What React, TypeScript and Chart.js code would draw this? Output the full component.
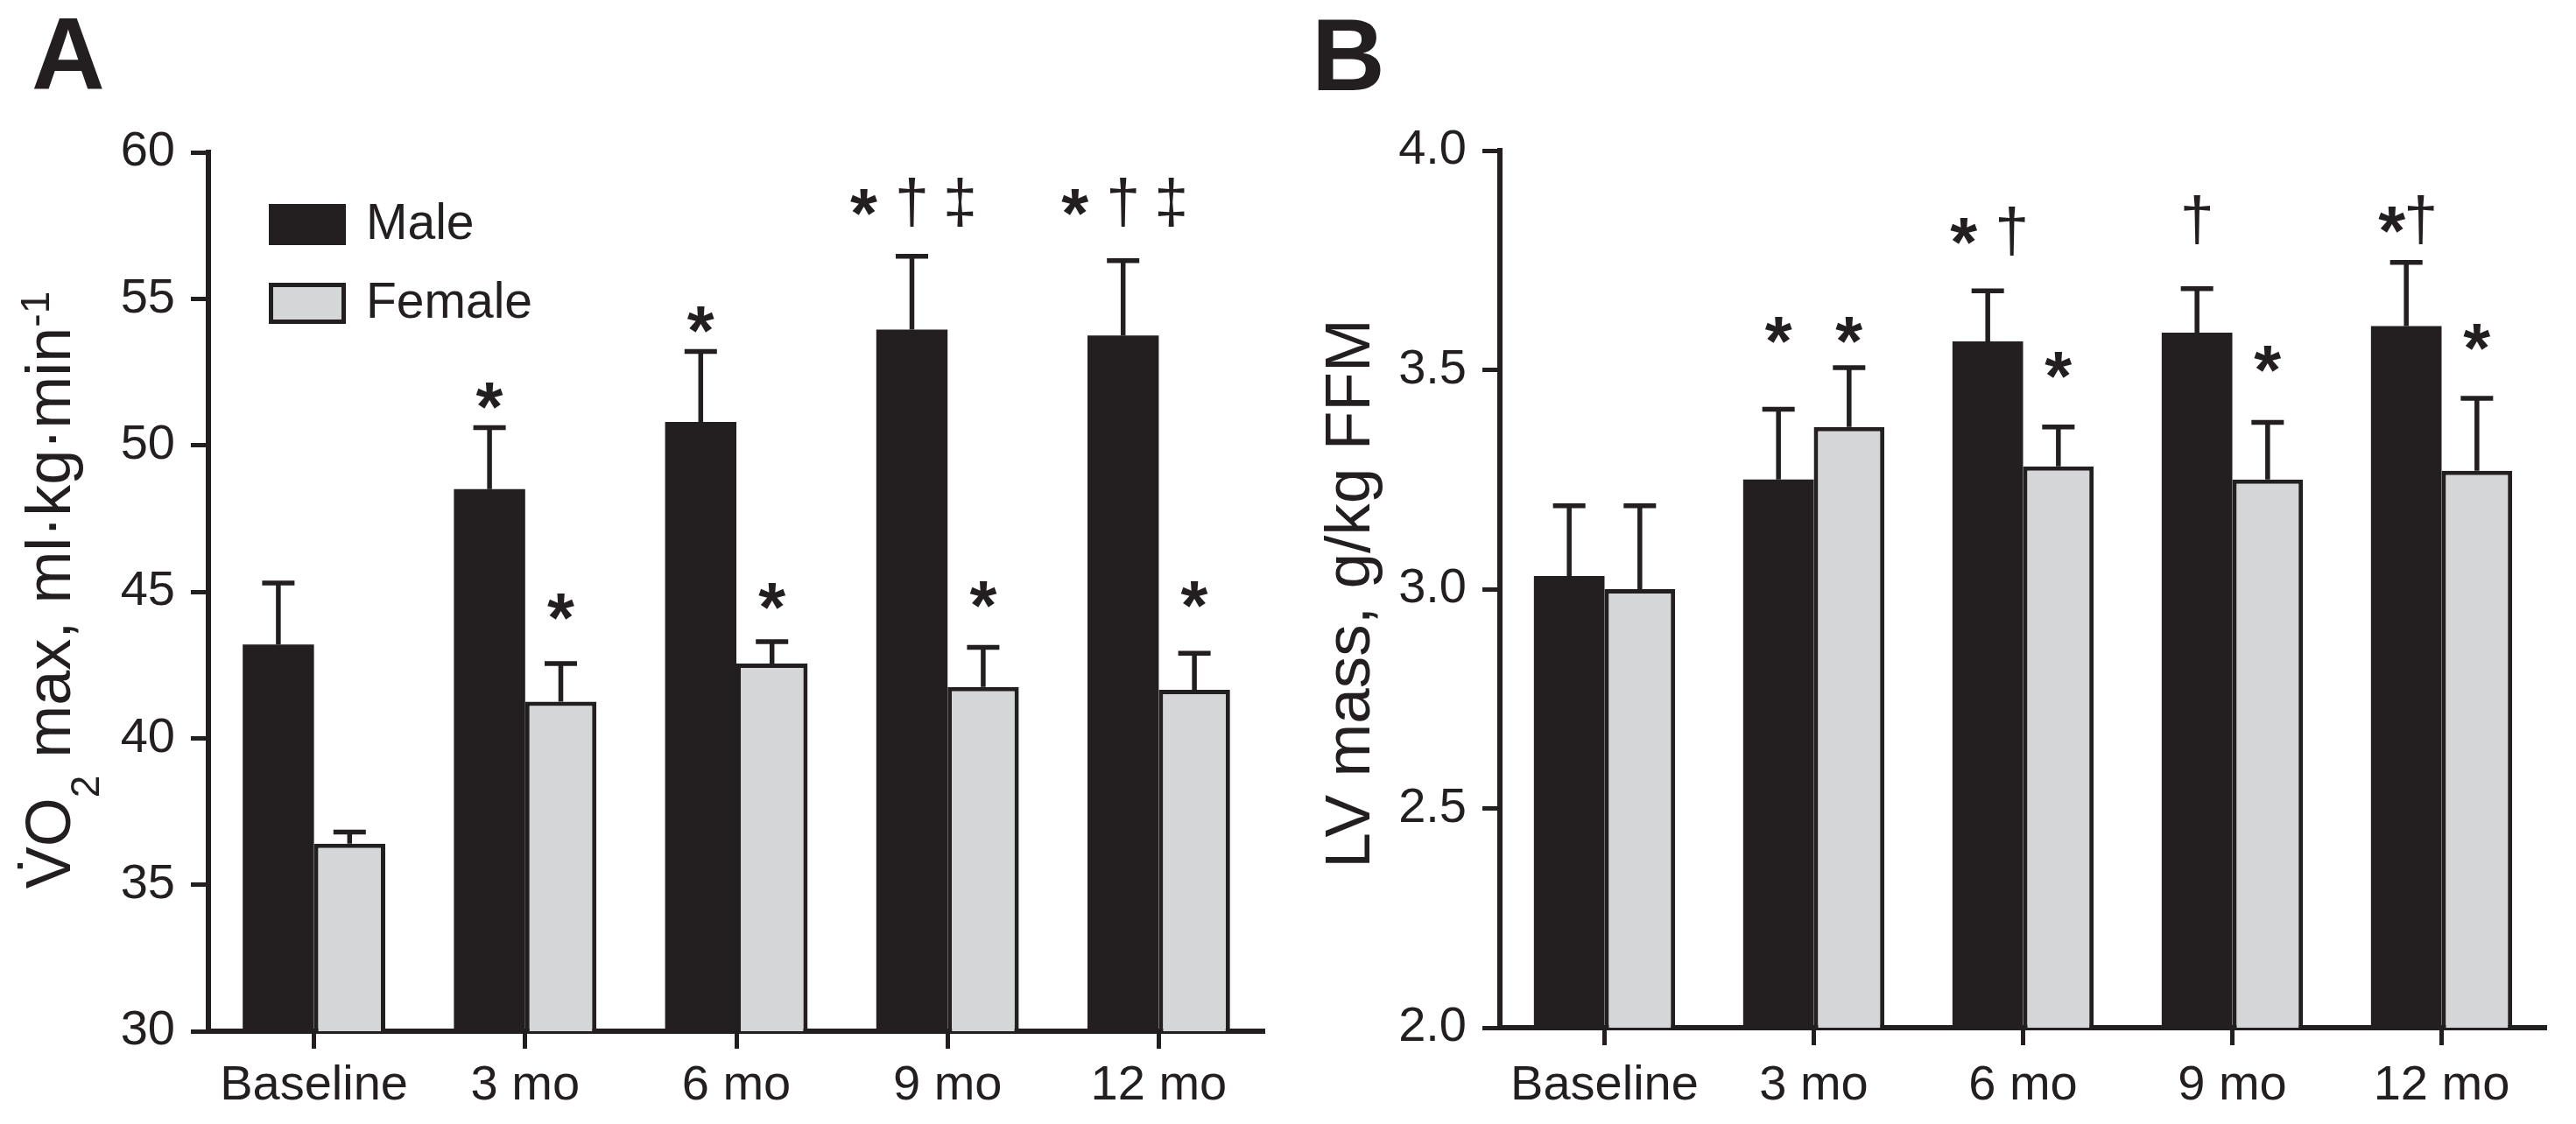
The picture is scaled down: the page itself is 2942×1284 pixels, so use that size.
import React, { useEffect, useRef } from 'react';
import { Chart, registerables } from 'chart.js';

Chart.register(...registerables);

// ---------- data ----------
const categories = ['Baseline', '3 mo', '6 mo', '9 mo', '12 mo'];
const seriesNames = ['Male', 'Female'];

const vo2Male = [43.2, 48.5, 50.8, 53.95, 53.75];
const vo2MaleSE = [2.1, 2.1, 2.4, 2.5, 2.55];
const vo2Female = [36.4, 41.25, 42.55, 41.75, 41.65];
const vo2FemaleSE = [0.4, 1.3, 0.75, 1.35, 1.25];
const vo2TickLabels = ['30', '35', '40', '45', '50', '55', '60'];

const lvMale = [3.03, 3.25, 3.565, 3.585, 3.6];
const lvMaleSE = [0.16, 0.16, 0.115, 0.1, 0.145];
const lvFemale = [3.0, 3.37, 3.28, 3.25, 3.27];
const lvFemaleSE = [0.19, 0.135, 0.09, 0.13, 0.165];
const lvTickLabels = ['2.0', '2.5', '3.0', '3.5', '4.0'];

// significance marks: [category index, series index, marks, level (axis units)]
const vo2Marks: [number, number, string, number][] = [
  [1, 0, '*', 51.7],
  [1, 1, '*', 44.5],
  [2, 0, '*', 54.3],
  [2, 1, '*', 44.85],
  [3, 0, '* \u2020 \u2021', 58.3],
  [3, 1, '*', 44.9],
  [4, 0, '* \u2020 \u2021', 58.3],
  [4, 1, '*', 44.9],
];
const lvMarks: [number, number, string, number][] = [
  [1, 0, '*', 3.59],
  [1, 1, '*', 3.59],
  [2, 0, '* \u2020', 3.816],
  [2, 1, '*', 3.511],
  [3, 0, '\u2020', 3.842],
  [3, 1, '*', 3.525],
  [4, 0, '*\u2020', 3.842],
  [4, 1, '*', 3.575],
];

// ---------- styling ----------
const INK = '#231f20';
const MALE_FILL = '#231f20';
const FEMALE_FILL = '#d5d6d8';
const FONT = '"Liberation Sans", Arial, Helvetica, sans-serif';
const W = 1471;
const H = 1284;

function inkText(ctx: CanvasRenderingContext2D, text: string, cx: number, cy: number) {
  const m = ctx.measureText(text);
  const x = cx - (m.actualBoundingBoxRight - m.actualBoundingBoxLeft) / 2;
  const y = cy - (m.actualBoundingBoxDescent - m.actualBoundingBoxAscent) / 2;
  ctx.textAlign = 'left';
  ctx.textBaseline = 'alphabetic';
  ctx.fillText(text, x, y);
}

function drawMarks(ctx: CanvasRenderingContext2D, text: string, cx: number, cy: number) {
  ctx.font = `bold 100px ${FONT}`;
  let m = ctx.measureText('*');
  const starSize = (100 * 31) / (m.actualBoundingBoxRight + m.actualBoundingBoxLeft);
  ctx.font = `100px ${FONT}`;
  m = ctx.measureText('\u2020');
  const dagSize = (100 * 56) / (m.actualBoundingBoxAscent + m.actualBoundingBoxDescent);
  const items: { ch: string; font: string; w: number; c: number }[] = [];
  let cursor = 0;
  for (const ch of text) {
    if (ch === ' ') {
      cursor += 22;
      continue;
    }
    const font = ch === '*' ? `bold ${starSize}px ${FONT}` : `${dagSize}px ${FONT}`;
    ctx.font = font;
    const mm = ctx.measureText(ch);
    const w = mm.actualBoundingBoxRight + mm.actualBoundingBoxLeft;
    items.push({ ch, font, w, c: cursor + w / 2 });
    cursor += w + 2;
  }
  const total = cursor - 2;
  for (const it of items) {
    ctx.font = it.font;
    inkText(ctx, it.ch, cx - total / 2 + it.c, cy);
  }
}

type Panel = {
  male: number[];
  maleSE: number[];
  female: number[];
  femaleSE: number[];
  tickLabels: string[];
  marks: [number, number, string, number][];
  letter: string;
  letterX: number;
  letterY: number;
  yAxisWidth: number;
  rightPad: number;
  top: number;
  bottom: number;
  xLabelPad: number;
  drawTitle: (ctx: CanvasRenderingContext2D) => void;
  legend: boolean;
};

function drawVO2Title(ctx: CanvasRenderingContext2D) {
  const size = 72;
  const small = 46;
  const parts: { t: string; s: number; dy: number }[] = [
    { t: 'V', s: size, dy: 0 },
    { t: 'O', s: size, dy: 0 },
    { t: '2', s: small, dy: 33 },
    { t: ' max, ml\u00b7kg\u00b7min', s: size, dy: 0 },
    { t: '-1', s: small, dy: -24 },
  ];
  ctx.save();
  ctx.translate(80, 674);
  ctx.rotate(-Math.PI / 2);
  ctx.fillStyle = INK;
  ctx.textBaseline = 'alphabetic';
  ctx.textAlign = 'left';
  let total = 0;
  const widths = parts.map((p) => {
    ctx.font = `${p.s}px ${FONT}`;
    const w = ctx.measureText(p.t).width;
    total += w;
    return w;
  });
  let x = -total / 2;
  parts.forEach((p, i) => {
    ctx.font = `${p.s}px ${FONT}`;
    ctx.fillText(p.t, x, p.dy);
    if (i === 0) {
      ctx.font = `${size}px ${FONT}`;
      inkText(ctx, '\u02d9', x + widths[0] / 2 + 2, -58);
    }
    x += widths[i];
  });
  ctx.restore();
}

function drawLVTitle(ctx: CanvasRenderingContext2D) {
  ctx.save();
  ctx.translate(93, 678);
  ctx.rotate(-Math.PI / 2);
  ctx.fillStyle = INK;
  ctx.font = `73px ${FONT}`;
  ctx.textAlign = 'center';
  ctx.textBaseline = 'alphabetic';
  ctx.fillText('LV mass, g/kg FFM', 0, 0);
  ctx.restore();
}

const panels: Panel[] = [
  {
    male: vo2Male,
    maleSE: vo2MaleSE,
    female: vo2Female,
    femaleSE: vo2FemaleSE,
    tickLabels: vo2TickLabels,
    marks: vo2Marks,
    letter: 'A',
    letterX: 38,
    letterY: 21,
    yAxisWidth: 238,
    rightPad: 27,
    top: 174,
    bottom: 1178,
    xLabelPad: 9,
    drawTitle: drawVO2Title,
    legend: true,
  },
  {
    male: lvMale,
    maleSE: lvMaleSE,
    female: lvFemale,
    femaleSE: lvFemaleSE,
    tickLabels: lvTickLabels,
    marks: lvMarks,
    letter: 'B',
    letterX: 34,
    letterY: 22,
    yAxisWidth: 242,
    rightPad: 34,
    top: 172,
    bottom: 1174,
    xLabelPad: 13,
    drawTitle: drawLVTitle,
    legend: false,
  },
];

function makeChart(canvas: HTMLCanvasElement, p: Panel) {
  const tickValues = p.tickLabels.map((t) => parseFloat(t));
  const errors = [p.maleSE, p.femaleSE];

  const decorations = {
    id: 'decorations',
    afterDatasetsDraw(chart: any) {
      const ctx: CanvasRenderingContext2D = chart.ctx;
      const ys = chart.scales.y;
      ctx.save();
      ctx.strokeStyle = INK;
      ctx.lineWidth = 5.5;
      ctx.lineCap = 'butt';
      chart.data.datasets.forEach((ds: any, di: number) => {
        const meta = chart.getDatasetMeta(di);
        meta.data.forEach((bar: any, i: number) => {
          const v = ds.data[i];
          const yTop = ys.getPixelForValue(v + errors[di][i]);
          ctx.beginPath();
          ctx.moveTo(bar.x, bar.y);
          ctx.lineTo(bar.x, yTop);
          ctx.moveTo(bar.x - 18.5, yTop);
          ctx.lineTo(bar.x + 18.5, yTop);
          ctx.stroke();
        });
      });
      ctx.fillStyle = INK;
      p.marks.forEach(([ci, si, txt, level]) => {
        const bar: any = chart.getDatasetMeta(si).data[ci];
        drawMarks(ctx, txt, bar.x, ys.getPixelForValue(level));
      });
      ctx.restore();
    },
    afterDraw(chart: any) {
      const ctx: CanvasRenderingContext2D = chart.ctx;
      ctx.save();
      ctx.fillStyle = INK;
      ctx.font = `bold 116px ${FONT}`;
      const m = ctx.measureText(p.letter);
      ctx.textAlign = 'left';
      ctx.textBaseline = 'alphabetic';
      ctx.fillText(p.letter, p.letterX + m.actualBoundingBoxLeft, p.letterY + m.actualBoundingBoxAscent);
      p.drawTitle(ctx);
      if (p.legend) {
        const boxX = 307;
        const boxW = 88;
        const boxH = 47;
        const rows = [233, 323];
        chart.data.datasets.forEach((ds: any, i: number) => {
          const y = rows[i];
          ctx.fillStyle = INK;
          ctx.fillRect(boxX, y, boxW, boxH);
          if (i === 1) {
            ctx.fillStyle = FEMALE_FILL;
            ctx.fillRect(boxX + 5, y + 5, boxW - 10, boxH - 10);
          }
          ctx.fillStyle = INK;
          ctx.font = `57px ${FONT}`;
          ctx.textAlign = 'left';
          ctx.textBaseline = 'middle';
          ctx.fillText(ds.label, 418, y + boxH / 2 + 1);
        });
      }
      ctx.restore();
    },
  };

  return new Chart(canvas, {
    type: 'bar',
    data: {
      labels: categories,
      datasets: [
        {
          label: seriesNames[0],
          data: p.male,
          backgroundColor: MALE_FILL,
          borderColor: INK,
          borderWidth: 0,
          categoryPercentage: 0.675,
          barPercentage: 1.0,
        },
        {
          label: seriesNames[1],
          data: p.female,
          backgroundColor: FEMALE_FILL,
          borderColor: INK,
          borderWidth: { top: 5, left: 5, right: 5, bottom: 0 },
          borderSkipped: 'bottom',
          categoryPercentage: 0.675,
          barPercentage: 1.0,
        },
      ],
    },
    options: {
      responsive: false,
      animation: false,
      devicePixelRatio: 1,
      layout: { padding: { left: 0, right: p.rightPad, top: p.top, bottom: 0 } },
      plugins: { legend: { display: false }, tooltip: { enabled: false } },
      scales: {
        x: {
          type: 'category',
          offset: true,
          grid: {
            display: true,
            offset: false,
            drawOnChartArea: false,
            drawTicks: true,
            tickLength: 20,
            tickWidth: 5,
            tickColor: INK,
          },
          border: { display: true, width: 6, color: INK },
          ticks: {
            color: INK,
            font: { family: FONT, size: 56 },
            padding: p.xLabelPad,
            maxRotation: 0,
            autoSkip: false,
          },
          afterFit(scale: any) {
            scale.height = H - p.bottom;
          },
        },
        y: {
          type: 'linear',
          min: tickValues[0],
          max: tickValues[tickValues.length - 1],
          grid: {
            display: true,
            drawOnChartArea: false,
            drawTicks: true,
            tickLength: 20,
            tickWidth: 5,
            tickColor: INK,
          },
          border: { display: true, width: 6, color: INK },
          ticks: {
            color: INK,
            font: { family: FONT, size: 56 },
            padding: 18,
            callback: (_v: any, i: number) => p.tickLabels[i],
          },
          afterBuildTicks(scale: any) {
            scale.ticks = tickValues.map((v) => ({ value: v }));
          },
          afterFit(scale: any) {
            scale.width = p.yAxisWidth;
          },
        },
      },
    },
    plugins: [decorations],
  } as any);
}

export default function App() {
  const refA = useRef<HTMLCanvasElement>(null);
  const refB = useRef<HTMLCanvasElement>(null);

  useEffect(() => {
    document.body.style.margin = '0';
    document.body.style.background = '#ffffff';
    const charts = [makeChart(refA.current!, panels[0]), makeChart(refB.current!, panels[1])];
    return () => charts.forEach((c) => c.destroy());
  }, []);

  return (
    <div style={{ position: 'absolute', left: 0, top: 0, width: 2 * W, height: H, background: '#fff', display: 'flex' }}>
      <canvas ref={refA} width={W} height={H} style={{ width: W, height: H, display: 'block' }} />
      <canvas ref={refB} width={W} height={H} style={{ width: W, height: H, display: 'block' }} />
    </div>
  );
}
